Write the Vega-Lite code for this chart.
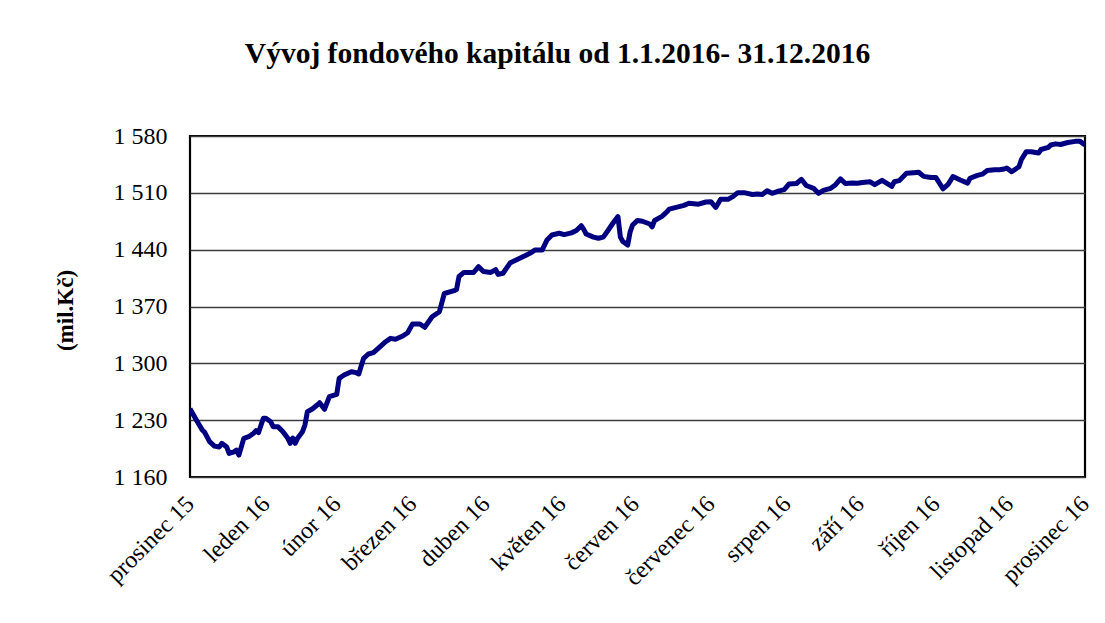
{
  "$schema": "https://vega.github.io/schema/vega-lite/v6.json",
  "autosize": "none",
  "padding": {"left": 190, "top": 136, "right": 20, "bottom": 146},
  "width": 895,
  "height": 341,
  "background": "white",
  "title": {
    "text": "Vývoj fondového kapitálu od 1.1.2016- 31.12.2016",
    "font": "Liberation Serif",
    "fontSize": 29.5,
    "fontWeight": "bold",
    "color": "black",
    "anchor": "middle",
    "frame": "group",
    "baseline": "alphabetic",
    "offset": 32,
    "dx": -80
  },
  "data": {
    "values": [
      {"date": "2015-12-31", "value": 1244},
      {"date": "2016-01-03", "value": 1228},
      {"date": "2016-01-05", "value": 1218},
      {"date": "2016-01-06", "value": 1215},
      {"date": "2016-01-08", "value": 1203.5},
      {"date": "2016-01-10", "value": 1198},
      {"date": "2016-01-12", "value": 1197},
      {"date": "2016-01-13", "value": 1201.5},
      {"date": "2016-01-15", "value": 1197},
      {"date": "2016-01-16", "value": 1189},
      {"date": "2016-01-18", "value": 1191},
      {"date": "2016-01-19", "value": 1193},
      {"date": "2016-01-20", "value": 1187},
      {"date": "2016-01-22", "value": 1207.6},
      {"date": "2016-01-24", "value": 1209.6},
      {"date": "2016-01-26", "value": 1213.8},
      {"date": "2016-01-27", "value": 1217},
      {"date": "2016-01-28", "value": 1214.6},
      {"date": "2016-01-30", "value": 1232.3},
      {"date": "2016-01-31", "value": 1232.3},
      {"date": "2016-02-02", "value": 1228},
      {"date": "2016-02-03", "value": 1222},
      {"date": "2016-02-05", "value": 1222},
      {"date": "2016-02-07", "value": 1215.8},
      {"date": "2016-02-09", "value": 1207.6},
      {"date": "2016-02-10", "value": 1201.5},
      {"date": "2016-02-11", "value": 1208},
      {"date": "2016-02-12", "value": 1201.5},
      {"date": "2016-02-13", "value": 1207.6},
      {"date": "2016-02-15", "value": 1215.8},
      {"date": "2016-02-16", "value": 1224},
      {"date": "2016-02-17", "value": 1240.4},
      {"date": "2016-02-19", "value": 1243.7},
      {"date": "2016-02-21", "value": 1248.7},
      {"date": "2016-02-22", "value": 1251.5},
      {"date": "2016-02-24", "value": 1243.4},
      {"date": "2016-02-26", "value": 1259},
      {"date": "2016-02-29", "value": 1261.8},
      {"date": "2016-03-01", "value": 1281.5},
      {"date": "2016-03-03", "value": 1285.6},
      {"date": "2016-03-06", "value": 1289.7},
      {"date": "2016-03-08", "value": 1288.5},
      {"date": "2016-03-09", "value": 1286.9},
      {"date": "2016-03-11", "value": 1306.2},
      {"date": "2016-03-13", "value": 1311.5},
      {"date": "2016-03-15", "value": 1313.1},
      {"date": "2016-03-18", "value": 1321.3},
      {"date": "2016-03-20", "value": 1326.6},
      {"date": "2016-03-22", "value": 1330.8},
      {"date": "2016-03-24", "value": 1329.6},
      {"date": "2016-03-27", "value": 1333.7},
      {"date": "2016-03-29", "value": 1337.7},
      {"date": "2016-03-31", "value": 1348.4},
      {"date": "2016-04-03", "value": 1348.4},
      {"date": "2016-04-05", "value": 1344.4},
      {"date": "2016-04-08", "value": 1357.4},
      {"date": "2016-04-11", "value": 1363.6},
      {"date": "2016-04-13", "value": 1386},
      {"date": "2016-04-17", "value": 1389.5},
      {"date": "2016-04-18", "value": 1391},
      {"date": "2016-04-19", "value": 1407},
      {"date": "2016-04-21", "value": 1412},
      {"date": "2016-04-25", "value": 1412},
      {"date": "2016-04-27", "value": 1419},
      {"date": "2016-04-29", "value": 1413},
      {"date": "2016-05-02", "value": 1412},
      {"date": "2016-05-04", "value": 1415.5},
      {"date": "2016-05-05", "value": 1409.5},
      {"date": "2016-05-07", "value": 1411},
      {"date": "2016-05-10", "value": 1424},
      {"date": "2016-05-13", "value": 1428.3},
      {"date": "2016-05-16", "value": 1432.5},
      {"date": "2016-05-18", "value": 1435.5},
      {"date": "2016-05-20", "value": 1439.5},
      {"date": "2016-05-23", "value": 1439.5},
      {"date": "2016-05-25", "value": 1452},
      {"date": "2016-05-27", "value": 1458},
      {"date": "2016-05-30", "value": 1460.2},
      {"date": "2016-06-01", "value": 1458.5},
      {"date": "2016-06-04", "value": 1460.7},
      {"date": "2016-06-06", "value": 1463.5},
      {"date": "2016-06-08", "value": 1469.5},
      {"date": "2016-06-09", "value": 1465},
      {"date": "2016-06-10", "value": 1459.3},
      {"date": "2016-06-13", "value": 1455.5},
      {"date": "2016-06-15", "value": 1454},
      {"date": "2016-06-17", "value": 1455.5},
      {"date": "2016-06-19", "value": 1464},
      {"date": "2016-06-21", "value": 1472.8},
      {"date": "2016-06-23", "value": 1480.7},
      {"date": "2016-06-24", "value": 1455.5},
      {"date": "2016-06-25", "value": 1450},
      {"date": "2016-06-27", "value": 1445.7},
      {"date": "2016-06-28", "value": 1462},
      {"date": "2016-06-29", "value": 1470.4},
      {"date": "2016-07-01", "value": 1476},
      {"date": "2016-07-03", "value": 1475},
      {"date": "2016-07-06", "value": 1471.6},
      {"date": "2016-07-07", "value": 1468},
      {"date": "2016-07-08", "value": 1476},
      {"date": "2016-07-11", "value": 1481},
      {"date": "2016-07-13", "value": 1486.5},
      {"date": "2016-07-14", "value": 1490},
      {"date": "2016-07-18", "value": 1493},
      {"date": "2016-07-20", "value": 1494.5},
      {"date": "2016-07-22", "value": 1497.1},
      {"date": "2016-07-26", "value": 1496},
      {"date": "2016-07-29", "value": 1498.7},
      {"date": "2016-07-31", "value": 1499.1},
      {"date": "2016-08-02", "value": 1492},
      {"date": "2016-08-04", "value": 1502},
      {"date": "2016-08-07", "value": 1502},
      {"date": "2016-08-09", "value": 1505.3},
      {"date": "2016-08-11", "value": 1510.2},
      {"date": "2016-08-14", "value": 1510},
      {"date": "2016-08-17", "value": 1508},
      {"date": "2016-08-19", "value": 1508.6},
      {"date": "2016-08-21", "value": 1508},
      {"date": "2016-08-23", "value": 1512.6},
      {"date": "2016-08-25", "value": 1509.4},
      {"date": "2016-08-28", "value": 1512.5},
      {"date": "2016-08-30", "value": 1514},
      {"date": "2016-09-01", "value": 1521},
      {"date": "2016-09-04", "value": 1521.5},
      {"date": "2016-09-06", "value": 1526.7},
      {"date": "2016-09-08", "value": 1519},
      {"date": "2016-09-11", "value": 1515.6},
      {"date": "2016-09-13", "value": 1509.4},
      {"date": "2016-09-15", "value": 1513},
      {"date": "2016-09-18", "value": 1515.6},
      {"date": "2016-09-20", "value": 1520},
      {"date": "2016-09-22", "value": 1527.2},
      {"date": "2016-09-24", "value": 1521.5},
      {"date": "2016-09-27", "value": 1522},
      {"date": "2016-09-29", "value": 1521.7},
      {"date": "2016-10-01", "value": 1522.7},
      {"date": "2016-10-04", "value": 1523.7},
      {"date": "2016-10-06", "value": 1520},
      {"date": "2016-10-09", "value": 1525.4},
      {"date": "2016-10-11", "value": 1521.7},
      {"date": "2016-10-13", "value": 1518},
      {"date": "2016-10-14", "value": 1523.7},
      {"date": "2016-10-16", "value": 1525},
      {"date": "2016-10-19", "value": 1534},
      {"date": "2016-10-22", "value": 1534.8},
      {"date": "2016-10-24", "value": 1535.3},
      {"date": "2016-10-26", "value": 1530.3},
      {"date": "2016-10-29", "value": 1529},
      {"date": "2016-10-31", "value": 1529},
      {"date": "2016-11-02", "value": 1519.6},
      {"date": "2016-11-03", "value": 1515},
      {"date": "2016-11-05", "value": 1520.5},
      {"date": "2016-11-07", "value": 1530},
      {"date": "2016-11-10", "value": 1525.8},
      {"date": "2016-11-13", "value": 1522},
      {"date": "2016-11-14", "value": 1528},
      {"date": "2016-11-17", "value": 1531.5},
      {"date": "2016-11-19", "value": 1533},
      {"date": "2016-11-21", "value": 1537.5},
      {"date": "2016-11-24", "value": 1538.5},
      {"date": "2016-11-26", "value": 1538.5},
      {"date": "2016-11-28", "value": 1539.4},
      {"date": "2016-11-29", "value": 1540.6},
      {"date": "2016-12-01", "value": 1536},
      {"date": "2016-12-04", "value": 1542.2},
      {"date": "2016-12-05", "value": 1551},
      {"date": "2016-12-07", "value": 1560.7},
      {"date": "2016-12-09", "value": 1560.7},
      {"date": "2016-12-12", "value": 1559},
      {"date": "2016-12-13", "value": 1563.4},
      {"date": "2016-12-16", "value": 1566},
      {"date": "2016-12-17", "value": 1568.9},
      {"date": "2016-12-19", "value": 1570.3},
      {"date": "2016-12-21", "value": 1569.5},
      {"date": "2016-12-24", "value": 1572},
      {"date": "2016-12-27", "value": 1573.4},
      {"date": "2016-12-29", "value": 1573.4},
      {"date": "2016-12-31", "value": 1569}
    ]
  },
  "mark": {"type": "line", "color": "#000080", "strokeWidth": 5, "strokeJoin": "round", "clip": true},
  "encoding": {
    "x": {
      "field": "date",
      "type": "temporal",
      "scale": {
        "type": "utc",
        "nice": false,
        "domain": [
          {"year": 2015, "month": 12, "date": 31, "utc": true},
          {"year": 2016, "month": 12, "date": 31, "utc": true}
        ]
      },
      "axis": {
        "title": null,
        "grid": false,
        "domain": false,
        "ticks": false,
        "values": [
          {"year": 2015, "month": 12, "date": 31, "utc": true},
          {"year": 2016, "month": 1, "date": 31, "utc": true},
          {"year": 2016, "month": 2, "date": 29, "utc": true},
          {"year": 2016, "month": 3, "date": 31, "utc": true},
          {"year": 2016, "month": 4, "date": 30, "utc": true},
          {"year": 2016, "month": 5, "date": 31, "utc": true},
          {"year": 2016, "month": 6, "date": 30, "utc": true},
          {"year": 2016, "month": 7, "date": 31, "utc": true},
          {"year": 2016, "month": 8, "date": 31, "utc": true},
          {"year": 2016, "month": 9, "date": 30, "utc": true},
          {"year": 2016, "month": 10, "date": 31, "utc": true},
          {"year": 2016, "month": 11, "date": 30, "utc": true},
          {"year": 2016, "month": 12, "date": 31, "utc": true}
        ],
        "labelExpr": "['leden','únor','březen','duben','květen','červen','červenec','srpen','září','říjen','listopad','prosinec'][utcmonth(datum.value)] + ' ' + utcFormat(datum.value, '%y')",
        "labelAngle": -45,
        "labelAlign": "right",
        "labelBaseline": "middle",
        "labelPadding": 23,
        "labelOffset": 0,
        "labelFont": "Liberation Serif",
        "labelFontSize": 24,
        "labelColor": "black",
        "labelOverlap": false,
        "labelBound": false,
        "labelFlush": false
      }
    },
    "y": {
      "field": "value",
      "type": "quantitative",
      "scale": {"domain": [1160, 1580], "nice": false, "zero": false},
      "axis": {
        "title": "(mil.Kč)",
        "titleFont": "Liberation Serif",
        "titleFontSize": 23,
        "titleFontWeight": "bold",
        "titleColor": "black",
        "titleAngle": -90,
        "titleX": -125,
        "titleY": 174,
        "titleAlign": "center",
        "titleBaseline": "middle",
        "values": [1160, 1230, 1300, 1370, 1440, 1510, 1580],
        "labelExpr": "replace(format(datum.value, ','), ',', ' ')",
        "labelFont": "Liberation Serif",
        "labelFontSize": 24,
        "labelColor": "black",
        "labelPadding": 23,
        "labelOverlap": false,
        "labelFlush": false,
        "ticks": false,
        "domain": false,
        "grid": true,
        "gridColor": "#3c3c3c",
        "gridWidth": 1.6
      }
    }
  },
  "config": {
    "view": {"stroke": "black", "strokeWidth": 2.2}
  }
}
